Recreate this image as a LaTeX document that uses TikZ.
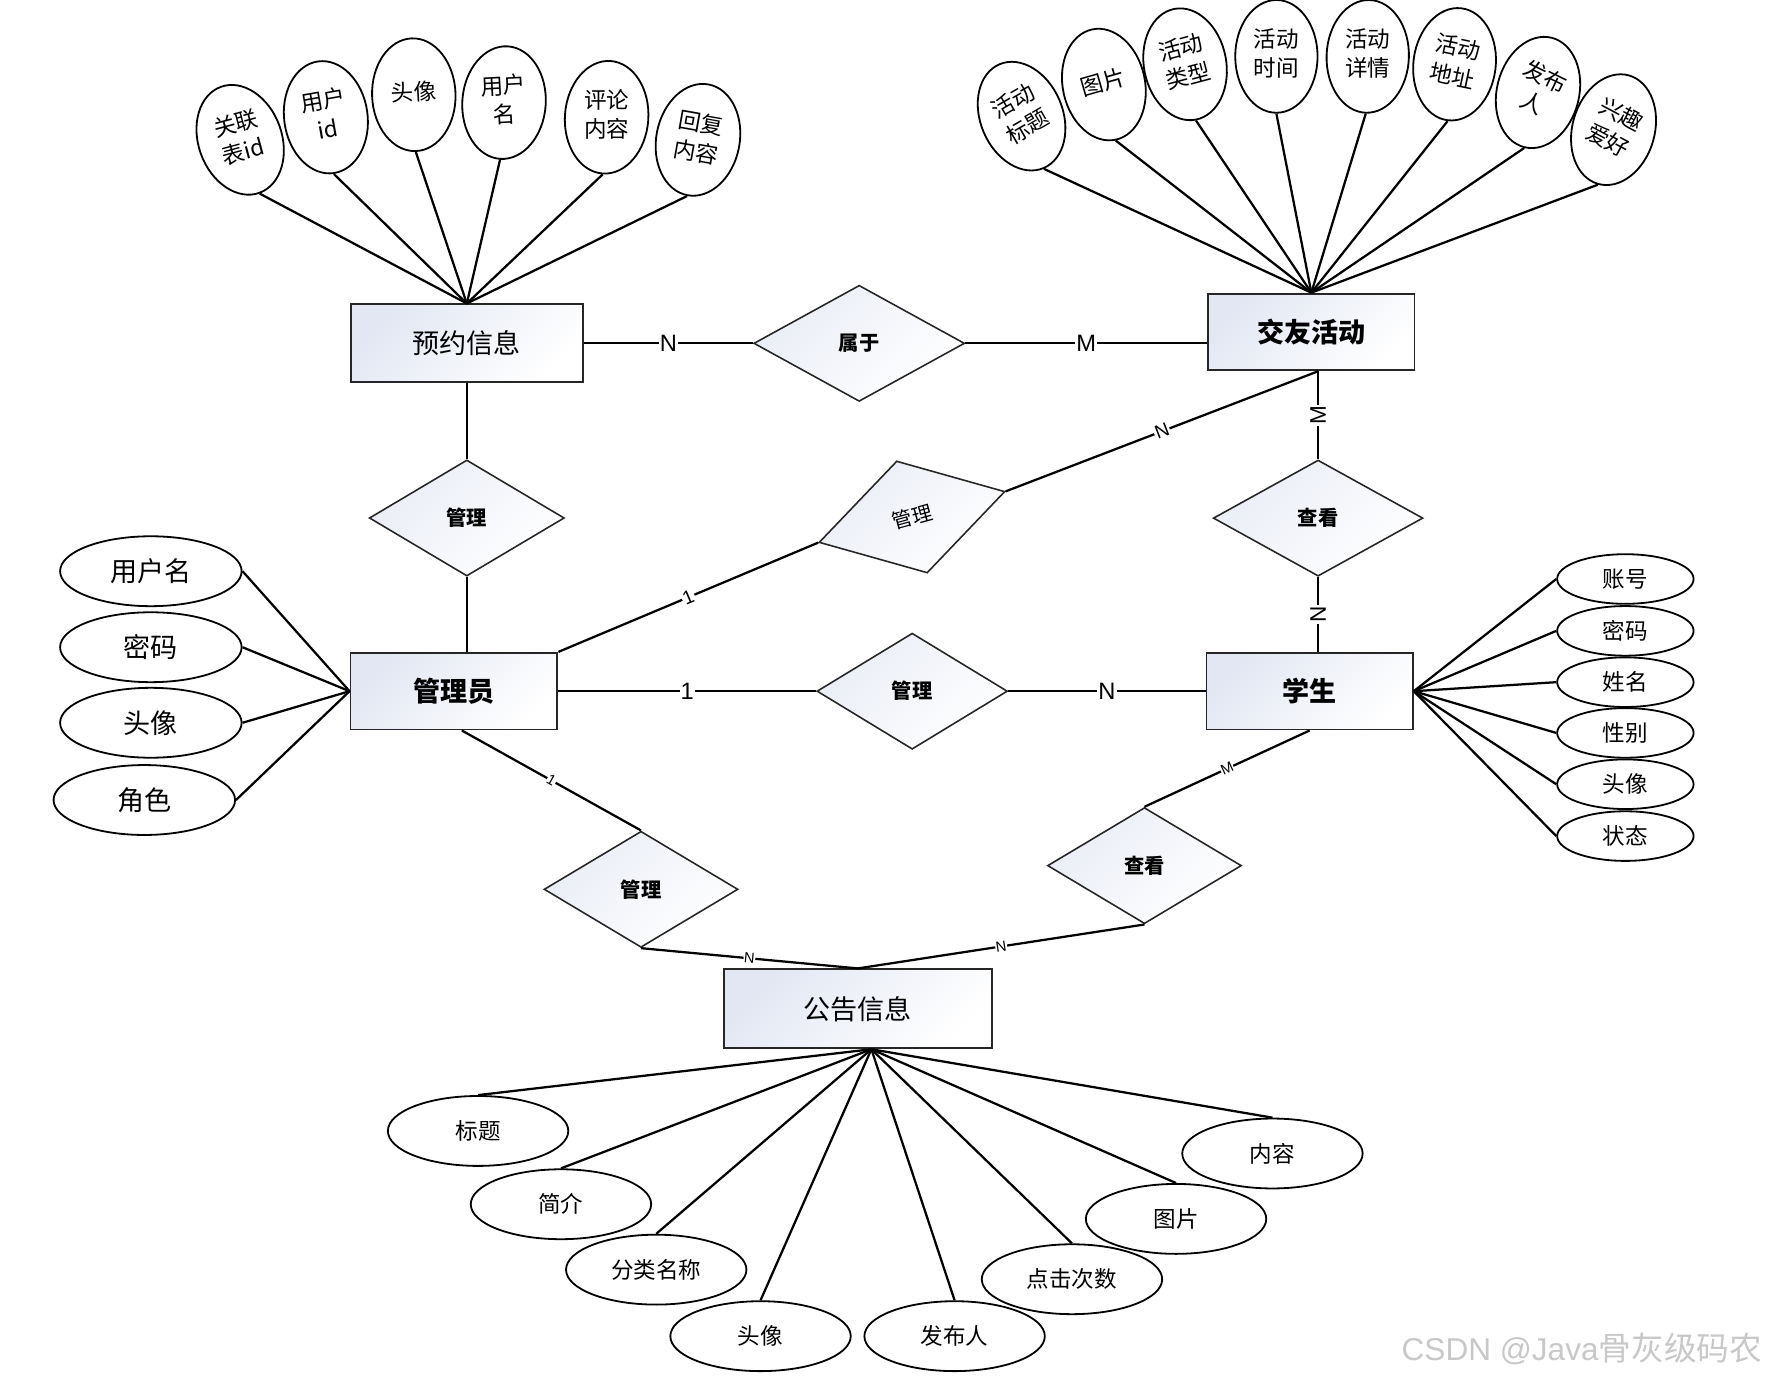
\documentclass[tikz,border=0pt]{standalone}
\usepackage{fontspec}
\setmainfont{Liberation Sans}
\newfontfamily\cjk{Noto Sans CJK SC}
\newfontfamily\lab{Liberation Sans}
\usetikzlibrary{shapes.geometric,calc}
\definecolor{boxfill}{HTML}{E2E7F3}
\definecolor{wmgray}{HTML}{C8C8C8}
\newcommand{\twoline}[1]{\begin{tabular}{@{}c@{}}#1\end{tabular}}
\tikzset{
  entity/.style={rectangle, draw=black!85, line width=1.7pt, top color=boxfill, bottom color=white, shading angle=45, inner sep=0pt},
  entreg/.style={font=\cjk\fontsize{24}{28}\selectfont},
  entbold/.style={font=\cjk\bfseries\fontsize{24}{28}\selectfont},
  rel/.style={diamond, draw=black!85, line width=1.4pt, top color=boxfill!75, bottom color=white, shading angle=45, inner sep=0pt, minimum width=172pt, minimum height=103pt, font=\cjk\bfseries\fontsize{18}{20}\selectfont},
  attr/.style={ellipse, draw=black, line width=1.6pt, fill=white, inner sep=0pt},
  attrtext/.style={font=\cjk\fontsize{20}{26}\selectfont},
  conn/.style={line width=2pt},
  card/.style={fill=white, inner sep=1pt, font=\lab\fontsize{21}{21}\selectfont},
  cardv/.style={fill=white, inner sep=1pt, font=\lab\fontsize{20}{20}\selectfont, rotate=90},
  cardm/.style={fill=white, inner sep=1pt, font=\lab\fontsize{17}{17}\selectfont, sloped},
  cards/.style={fill=white, inner sep=0.5pt, font=\lab\fontsize{13}{13}\selectfont, sloped},
}
\begin{document}
\begin{tikzpicture}[x=1pt,y=1pt]
\useasboundingbox (0,0) rectangle (1568,-1224);

% entities
\node[entity, entreg, minimum width=206pt, minimum height=69pt] (yy) at (414,-304.5) {预约信息};
\node[entity, entbold, minimum width=183pt, minimum height=68pt] (jy) at (1163,-294.4) {交友活动};
\node[entity, entbold, minimum width=183.5pt, minimum height=68pt] (gly) at (402.6,-613) {管理员};
\node[entity, entbold, minimum width=183pt, minimum height=68pt] (xs) at (1161.5,-613) {学生};
\node[entity, entreg, minimum width=237.6pt, minimum height=70pt] (gg) at (760.8,-894.7) {公告信息};

% relationships
\node[rel, minimum width=187pt] (sy) at (762,-304.5) {属于};
\node[rel, minimum width=173pt] (gl1) at (414,-459.4) {管理};
\node[rel, minimum width=171pt, rotate=15.3, font=\cjk\fontsize{18}{20}\selectfont] (gl2) at (808.8,-458.5) {管理};
\node[rel, minimum width=186pt] (ck1) at (1169,-459.5) {查看};
\node[rel, minimum width=169pt] (gl3) at (809,-613) {管理};
\node[rel] (gl4) at (568.5,-788.7) {管理};
\node[rel] (ck2) at (1015,-767.7) {查看};

% helper coordinates
\coordinate (jyb) at (ck1.north |- jy.south);
\coordinate (ggb) at ($(gg.south)+(12,0)$);
\coordinate (glyb) at ($(gly.south)+(7,0)$);

% relationship connectors
\draw[conn] (yy.east) -- node[card] {N} (sy.west);
\draw[conn] (sy.east) -- node[card] {M} (sy.east -| jy.west);
\draw[conn] (yy.south) -- (gl1.north);
\draw[conn] (gl1.south) -- (gl1.south |- gly.north);
\draw[conn] (gly.north east) -- node[cardm] {1} (gl2.west);
\draw[conn] (gl2.east) -- node[cardm] {N} (jyb);
\draw[conn] (jyb) -- node[cardv] {M} (ck1.north);
\draw[conn] (ck1.south) -- node[cardv] {N} (ck1.south |- xs.north);
\draw[conn] (gly.east) -- node[card] {1} (gl3.west);
\draw[conn] (gl3.east) -- node[card] {N} (xs.west);
\draw[conn] (glyb) -- node[cards] {1} (gl4.north);
\draw[conn] (gl4.south) -- node[cards] {N} (gg.north);
\draw[conn] (xs.south) -- node[cards] {M} (ck2.north);
\draw[conn] (ck2.south) -- node[cards] {N} (gg.north);

% attributes of 预约信息
\foreach \n/\x/\y/\a/\d/\txt in {
  a1/213/124/20/-5/{关联\\表id},
  a2/289/104/8/2/{用户\\id},
  a3/367/84/2/1/{头像},
  a4/447/91/-4/7/{用户\\名},
  a5/538/104/-4/4/{评论\\内容},
  a6/619/124/-11/1/{回复\\内容}}{
  \node[attr, attrtext, minimum width=74pt, minimum height=100pt, rotate=\a] (\n) at (\x,-\y) {\rotatebox[origin=c]{\d}{\twoline{\txt}}};
  \draw[conn] (\n.south) -- (yy.north);
}

% attributes of 交友活动
\foreach \n/\x/\y/\a/\d/\txt in {
  b1/906/103/23/7/{活动\\标题},
  b2/979/75/12/4/{图片},
  b3/1051/57/11/4/{活动\\类型},
  b4/1132/50/0/0/{活动\\时间},
  b5/1213/50/-2/2/{活动\\详情},
  b6/1290/57/-7/-5/{活动\\地址},
  b7/1364/82/-14/-12/{发布\\人},
  b8/1431/115/-16/-12/{兴趣\\爱好}}{
  \node[attr, attrtext, minimum width=73pt, minimum height=100pt, rotate=\a] (\n) at (\x,-\y) {\rotatebox[origin=c]{\d}{\twoline{\txt}}};
  \draw[conn] (\n.south) -- (jy.north);
}

% attributes of 管理员
\foreach \n/\x/\y/\txt in {
  c1/133.8/506.6/用户名,
  c2/133.8/574/密码,
  c3/133.8/641/头像,
  c4/128/709.5/角色}{
  \node[attr, minimum width=161pt, minimum height=62pt, font=\cjk\fontsize{24}{28}\selectfont] (\n) at (\x,-\y) {\txt};
  \draw[conn] (\n.east) -- (gly.west);
}

% attributes of 学生
\foreach \n/\x/\y/\txt in {
  d1/1441.5/513.5/账号,
  d2/1441.5/559.5/密码,
  d3/1441.5/605/姓名,
  d4/1441.5/650/性别,
  d5/1441.5/695.5/头像,
  d6/1441.5/741.5/状态}{
  \node[attr, minimum width=121pt, minimum height=44pt, font=\cjk\fontsize{20}{24}\selectfont] (\n) at (\x,-\y) {\txt};
  \draw[conn] (\n.west) -- (xs.east);
}

% attributes of 公告信息
\foreach \n/\x/\y/\txt in {
  e1/424/1003/标题,
  e2/497.5/1068/简介,
  e3/582/1126/分类名称,
  e4/674.5/1185/头像,
  e5/846.6/1185/发布人,
  e6/950.7/1134.5/点击次数,
  e7/1043/1081/图片,
  e8/1128.5/1023/内容}{
  \node[attr, minimum width=160pt, minimum height=62pt, font=\cjk\fontsize{20}{24}\selectfont] (\n) at (\x,-\y) {\txt};
  \draw[conn] (\n.north) -- (ggb);
}

% watermark
\node[anchor=east, inner sep=0pt, text=wmgray, font=\lab\fontsize{28}{28}\selectfont] (wm) at (1563,-1196) {CSDN @Java{\cjk\fontsize{29}{29}\selectfont 骨灰级码农}};
\end{tikzpicture}
\end{document}
